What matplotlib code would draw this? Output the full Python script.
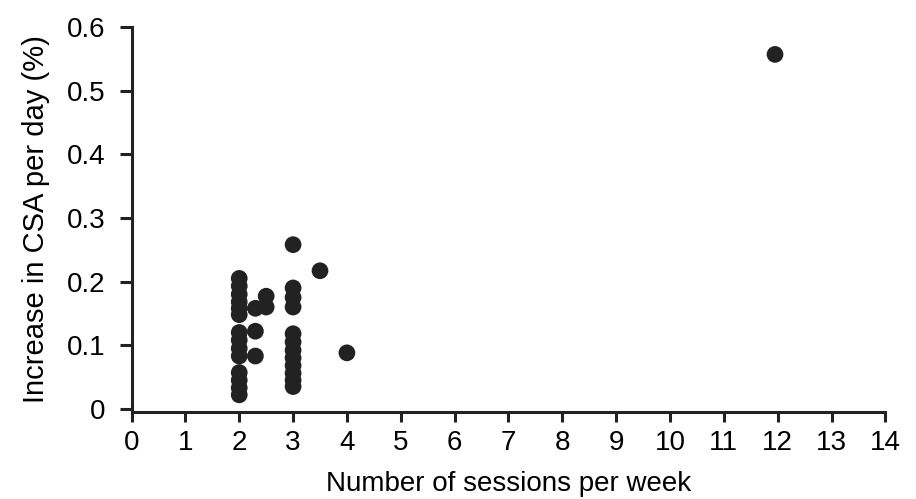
import matplotlib.pyplot as plt

# sessions per week and CSA increase per day (%)
sessions = [2, 2, 2, 2, 2, 2,
            2, 2, 2, 2,
            2, 2, 2, 2,
            2.3, 2.5, 2.5, 2.3, 2.3,
            3, 3, 3, 3,
            3, 3, 3, 3, 3, 3, 3, 3,
            3.5, 4, 11.95]
csa_increase = [0.205, 0.193, 0.18, 0.168, 0.158, 0.148,
                0.12, 0.108, 0.095, 0.083,
                0.057, 0.045, 0.033, 0.022,
                0.158, 0.177, 0.16, 0.122, 0.083,
                0.258, 0.19, 0.175, 0.16,
                0.118, 0.105, 0.092, 0.08, 0.068, 0.056, 0.045, 0.035,
                0.217, 0.088, 0.557]

x_ticks = list(range(0, 15))
y_ticks = [0, 0.1, 0.2, 0.3, 0.4, 0.5, 0.6]
y_labels = ['0', '0.1', '0.2', '0.3', '0.4', '0.5', '0.6']

plt.rcParams['font.family'] = ['Liberation Sans', 'DejaVu Sans']

fig = plt.figure(figsize=(9.16, 4.99), dpi=100)
ax = fig.add_axes([0.1436, 0.1743, 0.823, 0.7715])

ax.scatter(sessions, csa_increase, s=145, color='#222222', edgecolors='none', zorder=3)

ax.set_xlim(0, 14)
ax.set_ylim(-0.005, 0.6)
ax.set_xticks(x_ticks)
ax.set_yticks(y_ticks)
ax.set_yticklabels(y_labels)

for side in ['top', 'right']:
    ax.spines[side].set_visible(False)
for side in ['left', 'bottom']:
    ax.spines[side].set_linewidth(2.2)
    ax.spines[side].set_color('#222222')

ax.tick_params(axis='x', length=7, width=2.2, color='#222222', labelsize=20, pad=6)
ax.tick_params(axis='y', length=9, width=2.2, color='#222222', labelsize=20, pad=10)

ax.set_xlabel('Number of sessions per week', fontsize=20, labelpad=11)
ax.set_ylabel('Increase in CSA per day (%)', fontsize=21, labelpad=12)

plt.savefig('out.png', dpi=100)
